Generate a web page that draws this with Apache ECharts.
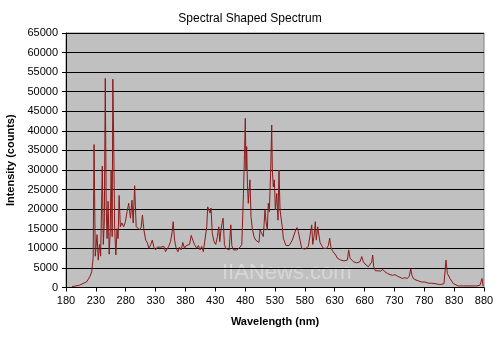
<!DOCTYPE html>
<html><head><meta charset="utf-8">
<script src="https://cdn.jsdelivr.net/npm/echarts@6/dist/echarts.min.js"></script>
<style>html,body{margin:0;padding:0;background:#fff}#c{width:500px;height:338px}</style>
</head><body><div id="c"></div>
<script>
var wavelengths = [190,203,215,220,223,225.5,227,229,232,234,236,238,240.8,242.5,244.2,245.8,247.3,248.8,250.5,252.3,254,255.6,257.3,258.4,259.7,261.5,263.5,265.5,267.2,269,271,273.5,276.5,279.5,282.3,285,288,290.5,292.5,295,297.5,300,303.7,306,308,310.5,313.4,316,318.9,322,324.5,327.2,330,332.8,335.5,338.4,341,343.9,346.6,349.5,352,355,357.9,359.5,361.8,364.6,367.4,370,373,375.6,378.5,381.3,384,386.9,389.7,392.4,395,399,401.7,404.5,407.3,410,412.9,415.7,417.3,419.5,421.2,422.9,425,428,430.8,433.5,435.8,437.5,439.7,441.4,443,445.3,447.6,450.4,453.2,456,457.7,460.5,463.3,466,468.8,471.6,474.4,477.2,478.9,480.3,481.4,482.6,483.9,485.3,486.7,488.1,489.8,492,494.8,497.7,500.4,503.2,505,507.7,510.4,513.3,515,517.1,518.8,520.5,522.8,524.5,525.5,527.2,528.9,530.6,532.9,535,536.7,538.4,540.6,542.2,543.9,546.3,548.4,550.6,553.5,556.3,559,561.8,564.7,566.9,569,571.9,574.7,577.4,580.3,583.1,585.8,588.6,591.5,593.2,595.3,597.5,599.2,601.5,603.2,605.4,608.2,610.9,613.8,616.6,619.3,621.6,623.3,626,628.8,631.7,634.3,637.2,640,642.7,645.6,648.4,651.1,653.4,655.6,658.5,661.1,664,666.8,669.5,672.4,675.2,677.9,680.7,683.6,686.3,689.1,692,693.6,695.3,698,701.3,707,710.4,714.2,718.1,722.6,727.1,731,734.8,739.3,743.2,747.7,751.6,754.9,757.3,759.4,761.6,766.1,770,775.7,781.2,786.7,792.4,798,803.5,809.2,813,816.4,818.6,820.9,823.1,826,828.6,831.5,837,845.4,856.6,867.8,873.3,876.7,878.4];
var intensities = [200,600,1500,2800,4000,7500,36500,8000,13500,7000,11000,8000,31000,11000,17000,53400,21000,12500,22000,8500,14000,30000,13000,53200,39500,15000,8300,15000,12500,23500,15500,16500,15500,16800,19400,21500,17700,22300,16500,26000,15500,16000,14700,15500,18500,14700,12100,11500,10000,11000,12100,10300,9600,10300,9800,10300,10000,10500,9150,9600,10500,11700,14300,16800,12100,10000,9150,10300,9600,11500,10000,10700,10500,11000,13300,12100,11000,10000,10700,9600,10500,9150,9600,15500,20600,21000,19000,20300,13800,11700,11000,13000,15500,11700,14900,16400,17700,11000,10000,10500,9600,16000,10700,9600,10000,9600,9800,10300,11000,24000,34000,43200,30000,36000,26000,21500,25000,27500,18100,15100,13000,12100,12600,11500,14700,14300,13000,19800,16800,14700,21500,19300,30000,41500,30000,25700,27500,19800,24000,17200,30000,19800,17200,15500,12600,12100,10700,10500,10700,10500,12100,13400,14700,15300,14300,12100,10000,10300,9800,10000,10500,11000,16000,11000,13000,16800,12100,15500,16000,11500,10700,10000,10300,10000,10700,12600,10500,9400,9150,8300,7500,7000,7000,7200,6800,6600,7000,9600,7500,7000,6600,6400,6300,6100,6600,7900,6600,6000,5700,5300,5500,6500,8300,5300,4300,4500,4200,4600,4000,3600,3300,3100,3300,2900,2600,2300,2500,2300,2900,4800,3100,2300,1900,1700,1400,1400,1100,1100,1000,800,800,1000,7000,3600,3100,2300,1900,1000,600,400,400,400,400,600,2300,400];
var xTicks = [180, 880, 50];
var yTicks = [0, 65000, 5000];

var data = wavelengths.map(function(w, i){ return [w, intensities[i]]; });
var chart = echarts.init(document.getElementById('c'), null, {renderer:'canvas'});
var font = 'Liberation Sans, Arial, sans-serif';
chart.setOption({
  animation: false,
  backgroundColor: '#ffffff',
  title: {
    text: 'Spectral Shaped Spectrum', left: 'center', top: 8,
    textStyle: {fontFamily: font, fontSize: 12, fontWeight: 'normal', color: '#000'}
  },
  grid: {left: 66, right: 16, top: 33, bottom: 50.5, show: true, backgroundColor: '#c0c0c0', borderColor: '#808080', borderWidth: 1, containLabel: false, outerBoundsMode: 'none'},
  xAxis: {
    type: 'value', min: xTicks[0], max: xTicks[1], interval: xTicks[2],
    name: 'Wavelength (nm)', nameLocation: 'middle', nameGap: 29,
    nameTextStyle: {fontFamily: font, fontSize: 11, fontWeight: 'bold', color: '#000'},
    axisLine: {show: true, lineStyle: {color: '#000', width: 1}},
    axisTick: {show: true, length: 4, lineStyle: {color: '#000'}},
    axisLabel: {fontFamily: font, fontSize: 11, color: '#000', margin: 8, formatter: function(v){ return String(v); }},
    splitLine: {show: false}
  },
  yAxis: {
    type: 'value', min: yTicks[0], max: yTicks[1], interval: yTicks[2],
    name: 'Intensity (counts)', nameLocation: 'middle', nameGap: 48,
    nameTextStyle: {fontFamily: font, fontSize: 11, fontWeight: 'bold', color: '#000'},
    axisLine: {show: true, lineStyle: {color: '#000', width: 1}},
    axisTick: {show: true, length: 4, lineStyle: {color: '#000'}},
    axisLabel: {fontFamily: font, fontSize: 11, color: '#000', margin: 8, formatter: function(v){ return String(v); }},
    splitLine: {show: true, lineStyle: {color: '#000', width: 1}}
  },
  graphic: [{
    type: 'text', left: 222, top: 262, silent: true,
    style: {text: 'IIANews.com', fontFamily: font, fontSize: 22, fill: 'rgba(255,255,255,0.35)'}
  }],
  series: [{
    type: 'line', data: data, showSymbol: false, smooth: false,
    lineStyle: {color: '#8B1A1A', width: 1}, z: 3
  }]
});
</script></body></html>
